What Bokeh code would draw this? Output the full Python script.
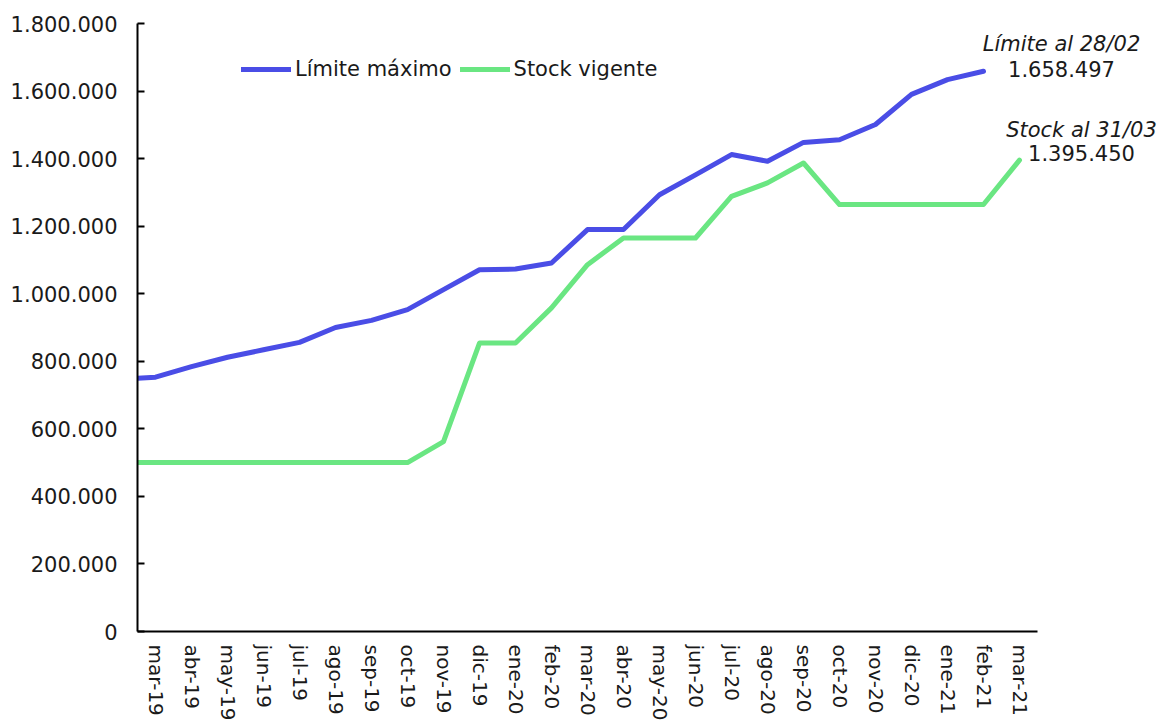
from bokeh.plotting import figure
from bokeh.models import (ColumnDataSource, Range1d, FixedTicker, Legend,
                          LegendItem, Label)
from bokeh.embed import file_html
from bokeh.resources import INLINE

# Monthly series (pesos)
meses = ["mar-19", "abr-19", "may-19", "jun-19", "jul-19", "ago-19", "sep-19",
         "oct-19", "nov-19", "dic-19", "ene-20", "feb-20", "mar-20", "abr-20",
         "may-20", "jun-20", "jul-20", "ago-20", "sep-20", "oct-20", "nov-20",
         "dic-20", "ene-21", "feb-21", "mar-21"]

# Límite máximo: opening value plus month-end values (no data for mar-21)
limite_inicial = 750_000
limite_maximo = [753_000, 784_000, 812_000, 834_000, 856_000, 900_000, 921_000,
                 953_000, 1_012_000, 1_071_000, 1_073_000, 1_091_000, 1_190_000,
                 1_190_000, 1_293_000, 1_352_000, 1_412_000, 1_392_000,
                 1_448_000, 1_456_000, 1_501_000, 1_590_000, 1_634_000,
                 1_658_497]

# Stock vigente: opening value plus month-end values
stock_inicial = 500_000
stock_vigente = [500_000, 500_000, 500_000, 500_000, 500_000, 500_000, 500_000,
                 500_000, 562_000, 854_000, 854_000, 958_000, 1_086_000,
                 1_165_000, 1_165_000, 1_165_000, 1_288_000, 1_328_000,
                 1_387_000, 1_264_000, 1_264_000, 1_264_000, 1_264_000,
                 1_264_000, 1_395_450]

y_ticks = [0, 200_000, 400_000, 600_000, 800_000, 1_000_000, 1_200_000,
           1_400_000, 1_600_000, 1_800_000]

FONT = "DejaVu Sans"
TEXT = "#1a1a1a"
AZUL = "#4a4de6"
VERDE = "#6ae682"

W, H = 1162, 725
LEFT, AXIS_RIGHT = 137, 1037


def miles(v):
    """Format an integer with dots as thousands separator."""
    return f"{int(v):,}".replace(",", ".")


n = len(meses)
x0, x1 = -0.5, n - 0.5
# The frame runs to the right edge so the end labels have room; the
# x axis line itself stops at the last month.
x_end = x0 + (x1 - x0) * (W - LEFT) / (AXIS_RIGHT - LEFT)

lim_src = ColumnDataSource(dict(
    x=[x0] + list(range(len(limite_maximo))),
    y=[limite_inicial] + limite_maximo))
stk_src = ColumnDataSource(dict(
    x=[x0] + list(range(len(stock_vigente))),
    y=[stock_inicial] + stock_vigente))

p = figure(width=W, height=H, output_backend="svg", toolbar_location=None,
           x_range=Range1d(x0, x_end),
           y_range=Range1d(0, 1_800_000),
           min_border_left=LEFT, min_border_right=0,
           min_border_top=23, min_border_bottom=94)
p.outline_line_color = None
p.xgrid.grid_line_color = None
p.ygrid.grid_line_color = None
p.background_fill_color = "white"
p.border_fill_color = "white"

r_lim = p.line("x", "y", source=lim_src, line_color=AZUL, line_width=5,
               line_cap="round", line_join="round")
r_stk = p.line("x", "y", source=stk_src, line_color=VERDE, line_width=5,
               line_cap="round", line_join="round")

# Y axis
ya = p.yaxis[0]
ya.ticker = FixedTicker(ticks=y_ticks)
ya.major_label_overrides = {t: miles(t) for t in y_ticks}
ya.axis_line_color = "black"
ya.axis_line_width = 2
ya.major_tick_line_color = "black"
ya.major_tick_line_width = 2
ya.major_tick_in = 7
ya.major_tick_out = 0
ya.minor_tick_line_color = None
ya.major_label_standoff = 20
ya.major_label_text_font = FONT
ya.major_label_text_font_size = "21px"
ya.major_label_text_color = TEXT

# X axis
xa = p.xaxis[0]
xa.bounds = (x0, x1)
xa.ticker = FixedTicker(ticks=list(range(n)))
xa.major_label_overrides = {i: m for i, m in enumerate(meses)}
xa.major_label_orientation = "vertical"
xa.axis_line_color = "black"
xa.axis_line_width = 2
xa.major_tick_line_color = None
xa.minor_tick_line_color = None
xa.major_tick_in = 0
xa.major_tick_out = 0
xa.major_label_standoff = 13
xa.major_label_text_font = FONT
xa.major_label_text_font_size = "20px"
xa.major_label_text_color = TEXT

legend = Legend(items=[LegendItem(label="Límite máximo", renderers=[r_lim]),
                       LegendItem(label="Stock vigente", renderers=[r_stk])],
                orientation="horizontal", location=(104, 550),
                glyph_width=50, glyph_height=20, label_standoff=4, spacing=8,
                padding=0, margin=0, border_line_color=None,
                background_fill_alpha=0,
                label_text_font=FONT, label_text_font_size="21px",
                label_text_color=TEXT)
p.add_layout(legend)

# End-point annotations: (x, value, x offset, value y offset, title y offset, title)
ult_lim = len(limite_maximo) - 1
ult_stk = len(stock_vigente) - 1
notas = [
    (ult_lim, limite_maximo[-1], 78, 2, 27, "Límite al 28/02"),
    (ult_stk, stock_vigente[-1], 62, 7, 30, "Stock al 31/03"),
]
for xi, yv, dx, dy_val, dy_tit, titulo in notas:
    p.add_layout(Label(x=xi, y=yv, x_offset=dx, y_offset=dy_val, text=miles(yv),
                       text_align="center", text_baseline="middle",
                       text_font=FONT, text_font_size="21px",
                       text_color=TEXT))
    p.add_layout(Label(x=xi, y=yv, x_offset=dx, y_offset=dy_tit, text=titulo,
                       text_align="center", text_baseline="middle",
                       text_font=FONT, text_font_style="italic",
                       text_font_size="21px", text_color=TEXT))

open("out.html", "w").write(file_html(p, INLINE))
